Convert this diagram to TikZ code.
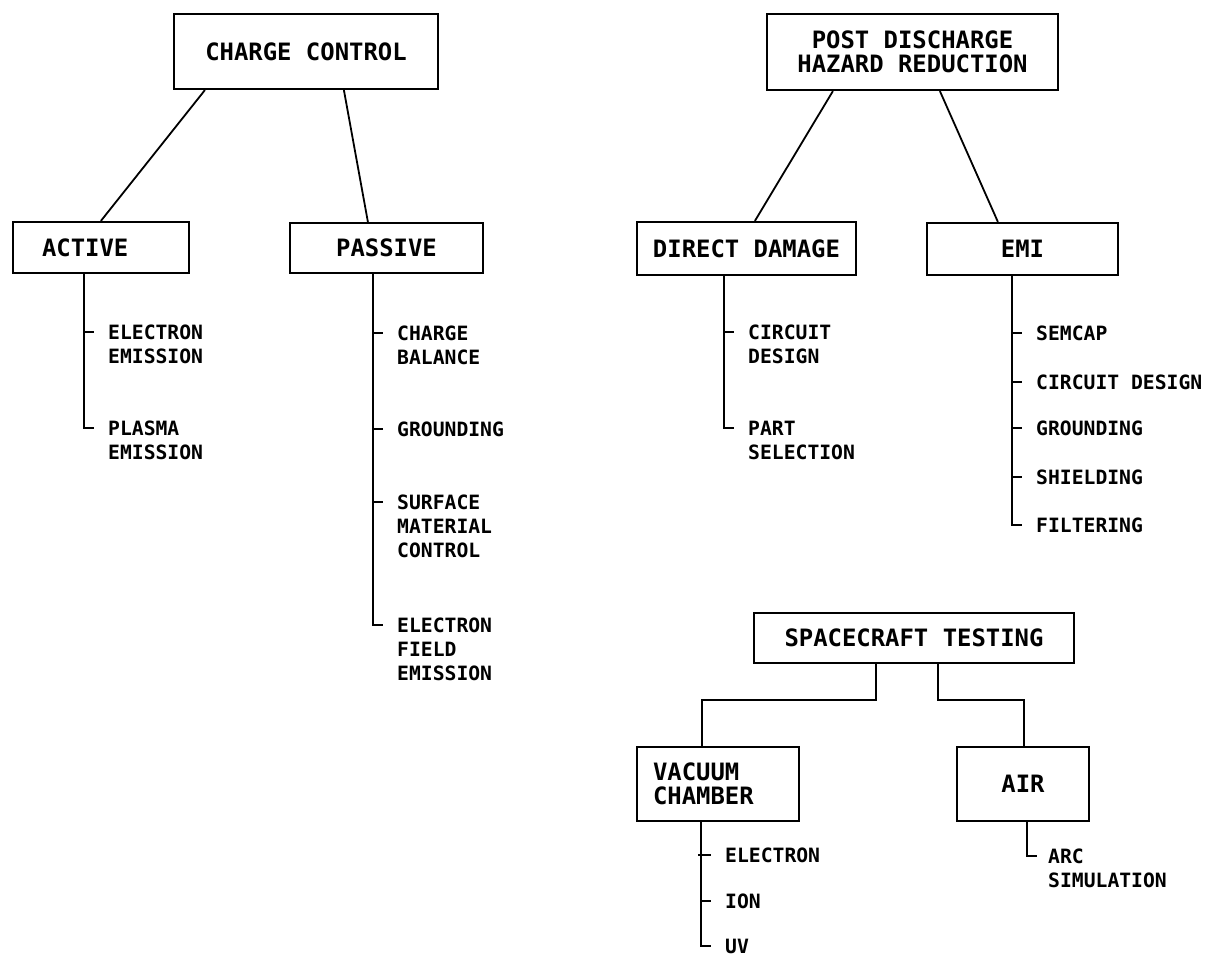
\documentclass[tikz,border=0pt]{standalone}
\usepackage{fontspec}
\setmonofont{DejaVu Sans Mono}
\usetikzlibrary{calc}
\begin{document}
\begin{tikzpicture}[x=1pt,y=-1pt,
  box/.style={draw, line width=2.2pt, inner sep=0pt, align=center,
    font=\ttfamily\bfseries\fontsize{23.9}{24.5}\selectfont},
  item/.style={anchor=north west, inner sep=0pt, align=left,
    font=\ttfamily\bfseries\fontsize{19.7}{24}\selectfont},
  link/.style={line width=1.8pt},
  trunk/.style={line width=2.2pt}]
\fill[white] (0,0) rectangle (1208,959);
\useasboundingbox (0,0) rectangle (1208,959);

% ---------- CHARGE CONTROL ----------
\node[box, minimum width=264pt, minimum height=75pt] (cc) at (306,51.5) {CHARGE CONTROL};
\node[box, minimum width=176pt, minimum height=51pt, text width=118pt, inner xsep=29pt, align=left] (active) at (101,247.5) {ACTIVE};
\node[box, minimum width=193pt, minimum height=50pt] (passive) at (386.5,248) {PASSIVE};
\draw[link] ($(cc.south west)+(32,0)$) -- ($(active.north west)+(89,0)$);
\draw[link] ($(cc.south west)+(171,0)$) -- ($(passive.north west)+(79,0)$);

\node[item] (a1) at (108,324.8) {ELECTRON\\EMISSION};
\node[item] (a2) at (108,420.8) {PLASMA\\EMISSION};
\draw[trunk] ($(active.south west)+(72,0)$) |- ($(a2.north west)+(-14,7.2)$);
\draw[trunk] ($(a1.north west)+(-23,7.2)$) -- ++(9,0);

\node[item] (p1) at (397,325.8) {CHARGE\\BALANCE};
\node[item] (p2) at (397,421.8) {GROUNDING};
\node[item] (p3) at (397,494.8) {SURFACE\\MATERIAL\\CONTROL};
\node[item] (p4) at (397,617.8) {ELECTRON\\FIELD\\EMISSION};
\draw[trunk] ($(passive.south west)+(84,0)$) |- ($(p4.north west)+(-14,7.2)$);
\draw[trunk] ($(p1.north west)+(-23,7.2)$) -- ++(9,0);
\draw[trunk] ($(p2.north west)+(-23,7.2)$) -- ++(9,0);
\draw[trunk] ($(p3.north west)+(-23,7.2)$) -- ++(9,0);

% ---------- POST DISCHARGE ----------
\node[box, minimum width=291pt, minimum height=76pt] (post) at (912.5,52) {POST DISCHARGE\\HAZARD REDUCTION};
\node[box, minimum width=219pt, minimum height=53pt] (dd) at (746.5,248.5) {DIRECT DAMAGE};
\node[box, minimum width=191pt, minimum height=52pt] (emi) at (1022.5,249) {EMI};
\draw[link] ($(post.south west)+(67,0)$) -- ($(dd.north west)+(119,0)$);
\draw[link] ($(post.south west)+(174,0)$) -- ($(emi.north west)+(72,0)$);

\node[item] (d1) at (748,324.8) {CIRCUIT\\DESIGN};
\node[item] (d2) at (748,420.8) {PART\\SELECTION};
\draw[trunk] ($(dd.south west)+(88,0)$) |- ($(d2.north west)+(-14,7.2)$);
\draw[trunk] ($(d1.north west)+(-23,7.2)$) -- ++(9,0);

\node[item] (e1) at (1036,325.8) {SEMCAP};
\node[item] (e2) at (1036,374.8) {CIRCUIT DESIGN};
\node[item] (e3) at (1036,420.8) {GROUNDING};
\node[item] (e4) at (1036,469.8) {SHIELDING};
\node[item] (e5) at (1036,517.8) {FILTERING};
\draw[trunk] ($(emi.south west)+(86,0)$) |- ($(e5.north west)+(-14,7.2)$);
\draw[trunk] ($(e1.north west)+(-23,7.2)$) -- ++(9,0);
\draw[trunk] ($(e2.north west)+(-23,7.2)$) -- ++(9,0);
\draw[trunk] ($(e3.north west)+(-23,7.2)$) -- ++(9,0);
\draw[trunk] ($(e4.north west)+(-23,7.2)$) -- ++(9,0);

% ---------- SPACECRAFT TESTING ----------
\node[box, minimum width=320pt, minimum height=50pt] (sc) at (914,638) {SPACECRAFT TESTING};
\node[box, minimum width=162pt, minimum height=74pt, text width=130pt, inner xsep=16pt, align=left] (vc) at (718,784) {VACUUM\\CHAMBER};
\node[box, minimum width=132pt, minimum height=74pt] (air) at (1023,784) {AIR};
\draw[link] ($(sc.south west)+(123,0)$) -- ++(0,36) -| ($(vc.north west)+(66,0)$);
\draw[link] ($(sc.south west)+(185,0)$) -- ++(0,36) -| ($(air.north west)+(68,0)$);

\node[item] (v1) at (725,847.8) {ELECTRON};
\node[item] (v2) at (725,893.8) {ION};
\node[item] (v3) at (725,938.5) {UV};
\draw[trunk] ($(vc.south west)+(65,0)$) |- ($(v3.north west)+(-14,7.2)$);
\draw[trunk] ($(v1.north west)+(-27,7.2)$) -- ++(13,0);
\draw[trunk] ($(v2.north west)+(-23,7.2)$) -- ++(9,0);

\node[item] (r1) at (1048,848.8) {ARC\\SIMULATION};
\draw[trunk] ($(air.south west)+(71,0)$) |- ($(r1.north west)+(-11,7.2)$);
\end{tikzpicture}
\end{document}
